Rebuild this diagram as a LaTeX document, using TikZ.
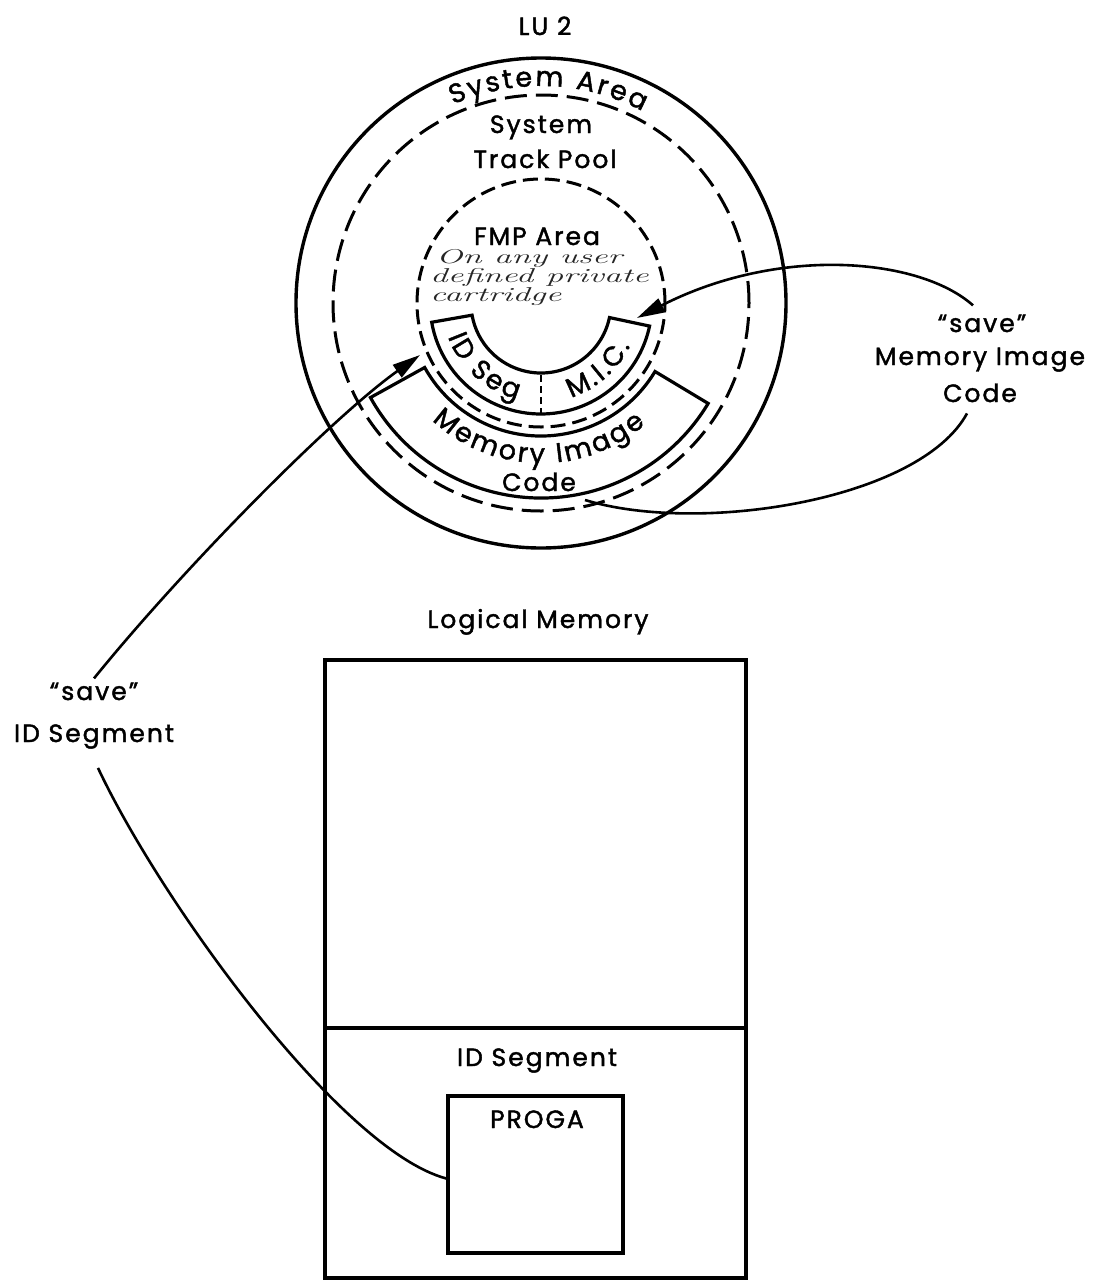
\documentclass[tikz,border=0pt]{standalone}
\usepackage{fontspec}
\setsansfont{Poppins}[FakeBold=1.6, LetterSpace=8]
\newfontfamily\arcfont{Poppins}[FakeBold=1.6]
\usepackage{graphicx}
\usetikzlibrary{arrows.meta,decorations.text}
\newcommand\arcsize{\arcfont\fontsize{27}{30}\selectfont}
\begin{document}
\begin{tikzpicture}[x=1pt,y=1pt,
  lbl/.style={font=\sffamily\fontsize{25}{30}\selectfont, inner sep=1pt, anchor=base},
  solidline/.style={line width=3.4pt},
  dashA/.style={line width=3pt, dash pattern=on 22pt off 9pt},
  dashB/.style={line width=3pt, dash pattern=on 15pt off 7pt},
  band/.style={line width=3.2pt},
  conn/.style={line width=2.6pt},
  tipped/.style={-{Triangle[length=28pt,width=15pt]}},
  box/.style={draw, line width=3.4pt, inner sep=0pt},
  arctext/.style={decorate, decoration={text effects along path, text={#1}, text align=center,
     text effects/.cd, text along path,
     characters={font=\arcsize, inner sep=0pt, anchor=base},
     character widths={font=\arcsize, inner xsep=1.3pt}}}
]
\useasboundingbox (0,0) rectangle (1098,-1282);
\coordinate (C) at (541,-303);

% disk
\draw[solidline] (C) circle[radius=245];
\draw[dashA] (C) circle[radius=208];
\draw[dashB] (C) circle[radius=124];
\draw[band, shift={(C)}] (190:70) -- (190:111) arc[start angle=190, end angle=348, radius=111]
   -- (348:70) arc[start angle=348, end angle=190, radius=70] -- cycle;
\draw[band, shift={(C)}] (209:133) -- (209:195) arc[start angle=209, end angle=329, radius=195]
   -- (329:133) arc[start angle=329, end angle=209, radius=133] -- cycle;
\draw[line width=1.4pt, dash pattern=on 7pt off 4pt, shift={(C)}] (270:72) -- (270:110);

% curved texts
\path[shift={(C)}, arctext={System Area}] (124:217) arc[start angle=124, end angle=52, radius=217];
\path[shift={(C)}, arctext={ID Seg}] (186:99) arc[start angle=186, end angle=270, radius=99];
\path[shift={(C)}, arctext={M.I.C.}] (272:99) arc[start angle=272, end angle=350, radius=99];
\path[shift={(C)}, arctext={Memory Image}] (205:160) arc[start angle=205, end angle=333, radius=160];

% straight texts
\node[lbl] (lu) at (545,-35) {LU 2};
\node[lbl] (sys) at (541,-133) {System};
\node[lbl] (tp) at (545,-168) {Track Pool};
\node[lbl] (fmp) at (537,-245) {FMP Area};
\node[lbl] (code) at (539,-491) {Code};
\node[anchor=north west, inner sep=0pt, align=left,
      font=\rmfamily\itshape\fontsize{20}{19}\selectfont, text=black!85] (hand) at (430,-249)
  {\hspace*{6pt}\scalebox{1.75}[1]{On any user}\\\scalebox{1.75}[1]{defined private}\\\scalebox{1.75}[1]{cartridge}};

% logical memory
\node[lbl] (logm) at (538,-628) {Logical Memory};
\node[box, minimum width=421pt, minimum height=618pt] (mem) at (535.5,-969) {};
\coordinate (divy) at (0,-1028);
\draw[line width=3.4pt] (mem.west |- divy) -- (mem.east |- divy);
\node[lbl] (idseg) at (537,-1066) {ID Segment};
\node[box, minimum width=175pt, minimum height=157pt] (proga) at (535.5,-1174.5) {};
\node[lbl] (progat) at (537,-1128) {PROGA};

% labels
\node[lbl] (svA) at (94,-700) {“save”};
\node[lbl] (svB) at (94,-742) {ID Segment};
\node[lbl] (svC) at (982,-332) {“save”};
\node[lbl] (svD) at (980,-365) {Memory Image};
\node[lbl] (svE) at (980,-402) {Code};

\coordinate (idtip) at (420,-355);
\coordinate (mictip) at (637,-318);
\coordinate (micsrc) at (585,-500);

% connectors
\draw[conn, tipped] ([yshift=3pt]svA.north) .. controls (180,-572) and (330,-419) .. (idtip);
\draw[conn] ([shift={(4pt,-18pt)}]svB.south) .. controls (160,-900) and (340,-1150) .. ([yshift=-4pt]proga.west);
\draw[conn, tipped] ([shift={(-9pt,8pt)}]svC.north) .. controls (920,-258) and (780,-245) .. (mictip);
\draw[conn] ([shift={(-13pt,-10pt)}]svE.south) .. controls (920,-500) and (700,-535) .. (micsrc);
\end{tikzpicture}
\end{document}
